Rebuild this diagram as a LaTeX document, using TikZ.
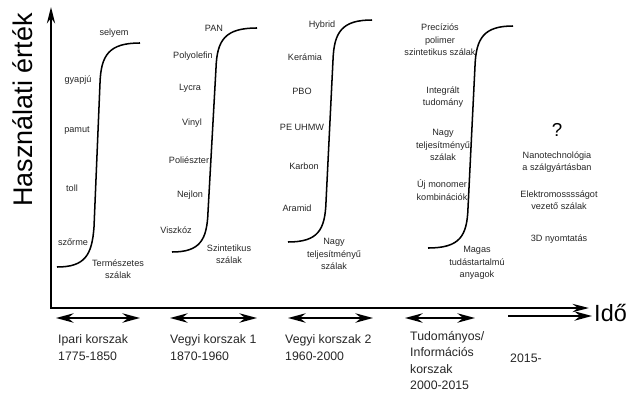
\documentclass[tikz,border=0pt]{standalone}
\usepackage{fontspec}
\setmainfont{Liberation Sans}
\usetikzlibrary{arrows.meta}

\begin{document}
\begin{tikzpicture}[
  x=0.03cm, y=-0.03cm,
  fib/.style={font=\fontsize{7.8}{10.6}\selectfont, align=center, inner sep=0pt,
    text=black!85},
  era/.style={font=\fontsize{10.5}{14.5}\selectfont, align=left, inner sep=0pt,
    anchor=base west, text=black!85},
  scurve/.style={line width=1.3pt},
  axis/.style={line width=2pt, {Stealth[length=14pt, width=7pt]}-{Stealth[length=14pt, width=7pt]}},
  erarr/.style={line width=1.8pt, {Stealth[length=15pt, width=8pt]}-{Stealth[length=15pt, width=8pt]}},
  lastarr/.style={line width=1.8pt, -{Stealth[length=15pt, width=8pt]}},
]
  \useasboundingbox (0,0) rectangle (627,396);

  % Axes
  \coordinate (o) at (51,308);
  \coordinate (ytip) at (51,7);
  \coordinate (xtip) at (589,308);
  \draw[axis] (ytip) -- (o) -- (xtip);
  \node[rotate=90, font=\fontsize{23}{23}\selectfont, inner sep=0pt] (ylab) at (23,110) {Használati érték};
  \node[anchor=west, font=\fontsize{20}{20}\selectfont, inner sep=0pt] (ido) at (594,313) {Idő};

  % S-curves
  \draw[scurve] (57,267) .. controls (85,267) and (92,255) .. (94,227) -- (100,83)
    .. controls (101,55) and (109,43) .. (140,43);
  \draw[scurve] (172,252) .. controls (200,252) and (207,240) .. (208,212) -- (216,68)
    .. controls (217,40) and (225,28) .. (257,28);
  \draw[scurve] (288,242) .. controls (318,242) and (325,230) .. (326,202) -- (333,60)
    .. controls (334,32) and (342,20) .. (372,20);
  \draw[scurve] (428,248) .. controls (460,248) and (467,236) .. (468,208) -- (475,66)
    .. controls (476,38) and (484,26) .. (513,26);

  % Natural fibres
  \node[fib] (selyem) at (114,33) {selyem};
  \node[fib] (gyapju) at (78,80) {gyapjú};
  \node[fib] (pamut) at (77,130) {pamut};
  \node[fib] (toll) at (72,188) {toll};
  \node[fib] (szorme) at (73,242) {szőrme};
  \node[fib] (term) at (118,269) {Természetes\\szálak};

  % Synthetic fibres
  \node[fib] (pan) at (214,28) {PAN};
  \node[fib] (polyol) at (193,56) {Polyolefin};
  \node[fib] (lycra) at (190,88) {Lycra};
  \node[fib] (vinyl) at (192,123) {Vinyl};
  \node[fib] (poliesz) at (189,160) {Poliészter};
  \node[fib] (nejlon) at (190,195) {Nejlon};
  \node[fib] (viszkoz) at (176,230) {Viszkóz};
  \node[fib] (szint) at (229,254) {Szintetikus\\szálak};

  % High performance fibres
  \node[fib] (hybrid) at (322,25) {Hybrid};
  \node[fib] (keramia) at (305,57) {Kerámia};
  \node[fib] (pbo) at (302,91) {PBO};
  \node[fib] (peuhmw) at (302,127) {PE UHMW};
  \node[fib] (karbon) at (304,166) {Karbon};
  \node[fib] (aramid) at (297,208) {Aramid};
  \node[fib] (nagy) at (334,254) {Nagy\\teljesítményű\\szálak};

  % Knowledge based materials
  \node[fib] (precz) at (440,40) {Precíziós\\polimer\\szintetikus szálak};
  \node[fib] (integr) at (443,97) {Integrált\\tudomány};
  \node[fib] (nagyb) at (443,145) {Nagy\\teljesítményű\\szálak};
  \node[fib] (monomer) at (442,190) {Új monomer\\kombinációk};
  \node[fib] (magas) at (477,263) {Magas\\tudástartalmú\\anyagok};

  % Future
  \node[font=\fontsize{16}{16}\selectfont, inner sep=0pt] (kerdes) at (557,130) {?};
  \node[fib] (nano) at (557,162) {Nanotechnológia\\a szálgyártásban};
  \node[fib] (elektr) at (559,200) {Elektromosssságot\\vezető szálak};
  \node[fib] (nyomt) at (559,239) {3D nyomtatás};

  % Era arrows
  \coordinate (e1l) at (56,318); \coordinate (e1r) at (140,318);
  \coordinate (e2l) at (170,318); \coordinate (e2r) at (257,318);
  \coordinate (e3l) at (288,318); \coordinate (e3r) at (373,318);
  \coordinate (e4l) at (405,318); \coordinate (e4r) at (475,318);
  \coordinate (e5l) at (508,316); \coordinate (e5r) at (592,316);
  \draw[erarr] (e1l) -- (e1r);
  \draw[erarr] (e2l) -- (e2r);
  \draw[erarr] (e3l) -- (e3r);
  \draw[erarr] (e4l) -- (e4r);
  \draw[lastarr] (e5l) -- (e5r);

  % Era labels
  \node[era] (ipari) at (58,360) {Ipari korszak\\1775-1850};
  \node[era] (vegyi1) at (170,360) {Vegyi korszak 1\\1870-1960};
  \node[era] (vegyi2) at (285,360) {Vegyi korszak 2\\1960-2000};
  \node[era, anchor=north west, font=\fontsize{10.5}{14}\selectfont] (tudom) at (410,331) {Tudományos/\\Információs\\korszak\\2000-2015};
  \node[era] (ujkor) at (510,362) {2015-};

\end{tikzpicture}
\end{document}
